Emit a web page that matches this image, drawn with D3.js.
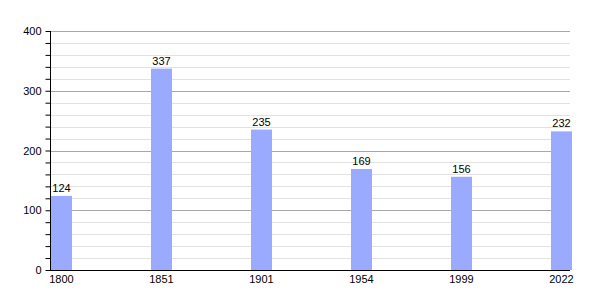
<!DOCTYPE html>
<html>
<head>
<meta charset="utf-8">
<script src="https://cdn.jsdelivr.net/npm/d3@7"></script>
<style>
  body { margin: 0; background: #fff; }
  text { font-family: "Liberation Sans", Arial, sans-serif; font-size: 11px; fill: #000; }
</style>
</head>
<body>
<div id="chart"></div>
<script>
// data
var years = ["1800", "1851", "1901", "1954", "1999", "2022"];
var population = [124, 337, 235, 169, 156, 232];
var yTicks = [0, 100, 200, 300, 400];

var width = 600, height = 300;
var plotLeft = 50, plotRight = 570, plotTop = 31, plotBottom = 270;

var svg = d3.select("#chart").append("svg")
    .attr("width", width)
    .attr("height", height);

// scales
var x = d3.scaleBand().domain(years).range([plotLeft, plotLeft + 100 * years.length]).padding(0);
var y = d3.scaleLinear().domain([0, 400]).range([plotBottom, plotTop]);
var barW = 21;

// minor gridlines every 20
var minor = d3.range(20, 400, 20).filter(function(d) { return d % 100 != 0; });
svg.append("g").selectAll("line").data(minor).enter().append("line")
    .attr("x1", plotLeft).attr("x2", plotRight)
    .attr("y1", function(d) { return Math.round(y(d)) + 0.5; })
    .attr("y2", function(d) { return Math.round(y(d)) + 0.5; })
    .style("stroke", "#e2e2e2");

// major gridlines
svg.append("g").selectAll("line").data(yTicks.slice(1)).enter().append("line")
    .attr("x1", plotLeft).attr("x2", plotRight)
    .attr("y1", function(d) { return Math.round(y(d)) + 0.5; })
    .attr("y2", function(d) { return Math.round(y(d)) + 0.5; })
    .style("stroke", "#a8a8a8");

// bars
svg.append("g").selectAll("rect").data(population).enter().append("rect")
    .attr("x", function(d, i) { return x(years[i]) + 1; })
    .attr("y", function(d) { return y(d); })
    .attr("width", barW)
    .attr("height", function(d) { return y(0) - y(d); })
    .style("fill", "#99aaff");

// value labels
svg.append("g").selectAll("text").data(population).enter().append("text")
    .attr("x", function(d, i) { return x(years[i]) + 1 + barW / 2; })
    .attr("y", function(d) { return y(d) - 4; })
    .attr("text-anchor", "middle")
    .text(function(d) { return d; });

// y axis with minor ticks
var yAxis = svg.append("g")
    .attr("transform", "translate(" + (plotLeft + 0.5) + ",0)")
    .call(d3.axisLeft(y).tickValues(d3.range(0, 401, 20)).tickSize(5).tickFormat(function(d) {
      return d % 100 == 0 ? d : "";
    }));
yAxis.select(".domain").attr("d", "M0," + plotTop + "V" + plotBottom).style("stroke", "#000");
yAxis.selectAll(".tick text").attr("x", -9).style("font-size", "11px").style("font-family", "Liberation Sans, Arial, sans-serif");

// x axis line
svg.append("line")
    .attr("x1", plotLeft).attr("x2", plotRight)
    .attr("y1", plotBottom + 0.5).attr("y2", plotBottom + 0.5)
    .style("stroke", "#000");

// x labels
svg.append("g").selectAll("text").data(years).enter().append("text")
    .attr("x", function(d) { return x(d) + 1 + barW / 2; })
    .attr("y", plotBottom + 13)
    .attr("text-anchor", "middle")
    .text(function(d) { return d; });
</script>
</body>
</html>
